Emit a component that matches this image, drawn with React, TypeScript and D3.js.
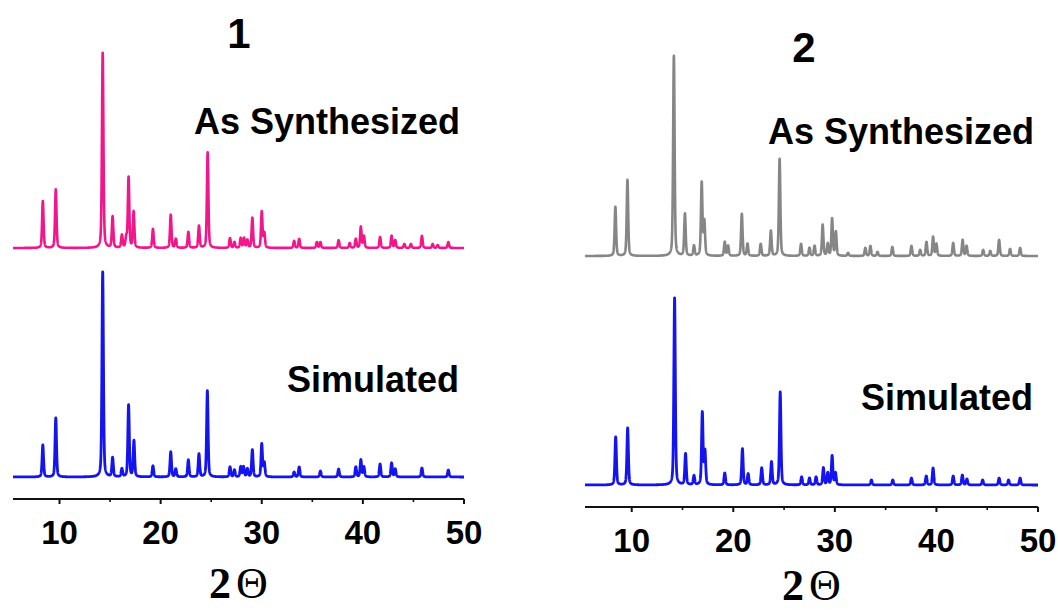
import * as React from "react";
import * as d3 from "d3";

// peak lists: [2theta, relative intensity (main peak = 100)]
const peaks1Synth: [number, number][] = [
  [8.35, 24], [9.63, 30], [14.27, 100], [15.25, 16], [16.17, 6.5], [16.6, 5],
  [16.83, 36], [17.33, 18.5], [19.24, 9.7], [21.0, 17], [21.5, 4.6], [22.74, 8.2],
  [23.79, 11.3], [24.65, 49], [26.86, 5], [27.3, 3], [27.92, 5], [28.25, 5],
  [28.58, 4], [29.07, 15.4], [30.0, 18.5], [30.25, 7.5], [33.2, 3.6], [33.7, 4.6],
  [35.45, 3], [35.8, 3], [37.6, 4], [38.7, 2.5], [39.3, 4.6], [39.8, 10.8],
  [40.1, 6], [41.7, 5.6], [42.84, 6.2], [43.2, 4], [44.1, 2], [44.75, 2],
  [45.84, 6.2], [46.9, 2], [47.4, 1.5], [48.45, 3],
];

const peaks1Sim: [number, number][] = [
  [8.35, 15.6], [9.63, 28.8], [14.27, 100], [15.25, 9.3], [16.17, 3.9], [16.83, 35],
  [17.36, 17.6], [19.24, 5.4], [21.0, 12.2], [21.5, 3.9], [22.74, 8.3], [23.79, 11.2],
  [24.62, 42], [26.86, 4.9], [27.3, 3.4], [27.92, 4.9], [28.2, 4.9], [28.58, 3.9],
  [29.07, 13.2], [30.0, 16], [30.25, 6.8], [33.2, 2.4], [33.7, 4.9], [35.8, 2.9],
  [37.6, 3.9], [39.3, 4.9], [39.8, 8.3], [40.1, 4.9], [41.7, 6.3], [42.84, 6.8],
  [43.2, 3.9], [45.84, 4.4], [48.45, 3.4],
];

const peaks2Synth: [number, number][] = [
  [8.39, 24.5], [9.58, 38], [14.15, 100], [15.24, 21], [16.13, 5], [16.89, 36.5],
  [17.15, 17], [19.16, 7], [19.49, 5], [20.84, 21], [21.4, 6], [22.7, 6],
  [23.7, 12.5], [24.56, 48.5], [26.67, 6], [27.5, 4], [28.0, 5], [28.8, 15.5],
  [29.3, 6], [29.73, 18.5], [30.1, 12], [31.3, 1.5], [33.0, 4], [33.5, 5],
  [34.2, 2], [35.66, 4.5], [37.54, 5], [38.4, 3], [39.02, 7], [39.67, 9.5],
  [40.0, 6], [41.65, 6.5], [42.58, 8], [42.97, 5], [44.6, 3], [45.3, 2.5],
  [46.17, 8], [47.25, 3.5], [48.24, 4],
];

const peaks2Sim: [number, number][] = [
  [8.42, 25.7], [9.6, 30.5], [14.22, 100], [15.3, 16.6], [16.13, 4.8], [16.95, 38.5],
  [17.21, 17.6], [19.16, 6.4], [20.9, 19.3], [21.46, 5.9], [22.8, 9.1], [23.76, 12.3],
  [24.62, 49.7], [26.73, 4.3], [27.5, 3.7], [28.15, 4.3], [28.87, 9.1], [29.3, 6.4],
  [29.73, 15.5], [30.06, 6.4], [33.6, 2.7], [35.7, 2.7], [37.54, 3.7], [39.0, 4.8],
  [39.67, 9.1], [41.65, 4.8], [42.55, 5.3], [43.0, 3.2], [44.55, 2.7], [46.17, 3.7],
  [47.1, 2.7], [48.24, 3.7],
];

const majorTicks = [10, 20, 30, 40, 50];
const minorTicks = [15, 25, 35, 45];

const fwhm = 0.17;
const eta = 0.4;

// pseudo-Voigt profile built from the peak list
const profile = (peaks: [number, number][], x0: number, x1: number) => {
  const pts: [number, number][] = [];
  for (let x = x0; x <= x1 + 1e-9; x += 0.01) {
    let y = 0;
    for (const [c, h] of peaks) {
      const t = (x - c) / fwhm;
      const g = Math.exp(-4 * Math.LN2 * t * t);
      const l = 1 / (1 + 4 * t * t);
      y += h * ((1 - eta) * g + eta * l);
    }
    pts.push([x, y]);
  }
  return pts;
};

type PanelProps = {
  left: number;
  right: number;
  axisY: number;
  title: string;
  titleX: number;
  titleY: number;
  topPeaks: [number, number][];
  topColor: string;
  topBase: number;
  topHeight: number;
  botPeaks: [number, number][];
  botBase: number;
  botHeight: number;
  synthY: number;
  simY: number;
  tickLabelY: number;
  axisLabelY: number;
};

const sans = "Liberation Sans, Arial, sans-serif";

const Panel = (p: PanelProps) => {
  const x0 = 5.4;
  const x = d3.scaleLinear().domain([x0, 50]).range([p.left, p.right]);
  const yTop = d3.scaleLinear().domain([0, 100]).range([p.topBase, p.topBase - p.topHeight]);
  const yBot = d3.scaleLinear().domain([0, 100]).range([p.botBase, p.botBase - p.botHeight]);
  const lineTop = d3.line<[number, number]>().x((d) => x(d[0])).y((d) => yTop(d[1]));
  const lineBot = d3.line<[number, number]>().x((d) => x(d[0])).y((d) => yBot(d[1]));
  const center = (p.left + p.right) / 2;

  return (
    <g>
      <text x={p.titleX} y={p.titleY} textAnchor="middle" fontFamily={sans} fontWeight="bold" fontSize={42}>
        {p.title}
      </text>
      <text x={p.right - 4} y={p.synthY} textAnchor="end" fontFamily={sans} fontWeight="bold" fontSize={36}>
        As Synthesized
      </text>
      <text x={p.right - 5} y={p.simY} textAnchor="end" fontFamily={sans} fontWeight="bold" fontSize={36}>
        Simulated
      </text>
      <path d={lineTop(profile(p.topPeaks, x0, 50)) || ""} fill="none" stroke={p.topColor} strokeWidth={2.6} strokeLinejoin="round" />
      <path d={lineBot(profile(p.botPeaks, x0, 50)) || ""} fill="none" stroke="#1414f0" strokeWidth={2.8} strokeLinejoin="round" />
      <line x1={p.left} x2={p.right} y1={p.axisY} y2={p.axisY} stroke="#111" strokeWidth={2} />
      {majorTicks.map((t) => (
        <g key={t}>
          <line x1={x(t)} x2={x(t)} y1={p.axisY} y2={p.axisY + 5} stroke="#111" strokeWidth={2} />
          <text x={x(t)} y={p.tickLabelY} textAnchor="middle" fontFamily={sans} fontWeight="bold" fontSize={33}>
            {t}
          </text>
        </g>
      ))}
      {minorTicks.map((t) => (
        <line key={t} x1={x(t)} x2={x(t)} y1={p.axisY} y2={p.axisY + 3} stroke="#111" strokeWidth={1.6} />
      ))}
      <text x={center} y={p.axisLabelY} textAnchor="middle" fontFamily="Liberation Serif, Times New Roman, serif" fontSize={44}>
        <tspan fontWeight="bold">2</tspan>
        <tspan dx={5}>Θ</tspan>
      </text>
    </g>
  );
};

export default function App() {
  return (
    <svg width={1058} height={610} style={{ position: "absolute", left: 0, top: 0, background: "#fff" }}>
      <rect width={1058} height={610} fill="#fff" />
      <Panel
        left={13} right={464} axisY={499}
        title="1" titleX={239} titleY={48}
        topPeaks={peaks1Synth} topColor="#f2168a" topBase={248} topHeight={195}
        botPeaks={peaks1Sim} botBase={477} botHeight={205}
        synthY={134} simY={392} tickLabelY={544} axisLabelY={598}
      />
      <Panel
        left={585} right={1038} axisY={507}
        title="2" titleX={804} titleY={62}
        topPeaks={peaks2Synth} topColor="#868686" topBase={256} topHeight={200}
        botPeaks={peaks2Sim} botBase={485} botHeight={187}
        synthY={144} simY={410} tickLabelY={552} axisLabelY={600}
      />
    </svg>
  );
}
